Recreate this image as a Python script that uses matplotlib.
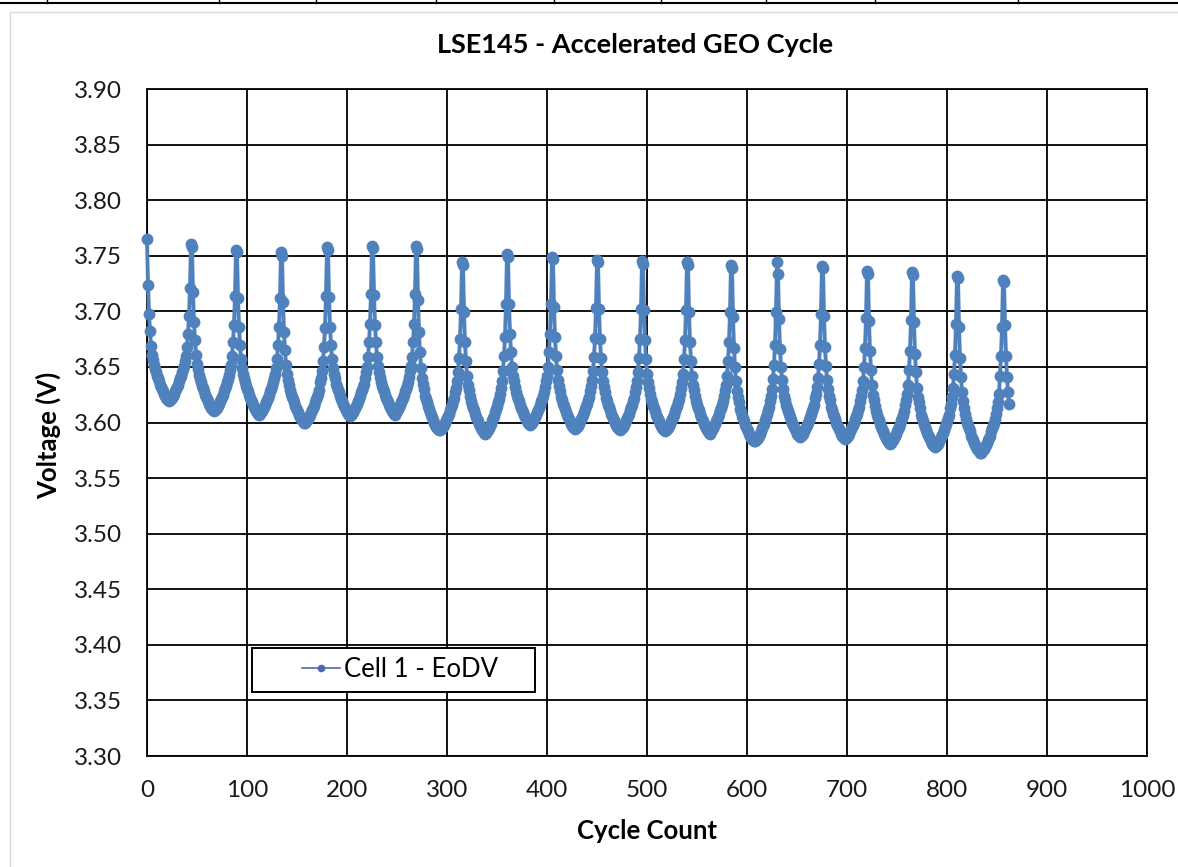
import numpy as np
import matplotlib
matplotlib.use("Agg")
import matplotlib.pyplot as plt
from matplotlib.lines import Line2D
from matplotlib.patches import Rectangle

plt.rcParams['font.family'] = ['Lato', 'DejaVu Sans']

# end-of-discharge voltage (mV), one list per eclipse season
season_01 = [3765, 3724, 3698, 3682, 3669, 3661, 3656, 3652, 3648, 3645, 3642, 3640, 3637, 3634, 3632, 3630,
             3628, 3626, 3624, 3622, 3621, 3620, 3619,
             3620, 3621, 3622, 3624, 3626, 3628, 3630, 3632, 3634, 3637, 3640, 3642, 3645, 3648,
             3651, 3655, 3660, 3668, 3680, 3696, 3721, 3761]
season_02 = [3758, 3717, 3690, 3674, 3661, 3653, 3648, 3643, 3639, 3636, 3633, 3631, 3628, 3625, 3623, 3621,
             3619, 3617, 3615, 3613, 3612, 3611, 3610,
             3611, 3612, 3613, 3615, 3617, 3619, 3621, 3623, 3625, 3628, 3631, 3633, 3636, 3639,
             3643, 3647, 3652, 3660, 3672, 3688, 3714, 3755]
season_03 = [3753, 3712, 3686, 3670, 3657, 3649, 3644, 3640, 3636, 3633, 3630, 3628, 3625, 3622, 3620, 3618,
             3616, 3614, 3612, 3610, 3609, 3608, 3607,
             3608, 3609, 3610, 3612, 3614, 3616, 3618, 3620, 3622, 3625, 3628, 3630, 3633, 3636,
             3640, 3644, 3649, 3657, 3670, 3686, 3712, 3753]
season_04 = [3750, 3708, 3681, 3665, 3652, 3644, 3638, 3634, 3629, 3626, 3623, 3621, 3618, 3615, 3613, 3611,
             3609, 3607, 3605, 3603, 3602, 3601, 3600, 3600,
             3601, 3602, 3603, 3605, 3607, 3609, 3611, 3613, 3615, 3618, 3621, 3623, 3626, 3629,
             3636, 3640, 3646, 3655, 3668, 3685, 3714, 3758]
season_05 = [3755, 3713, 3686, 3670, 3657, 3649, 3644, 3640, 3635, 3632, 3629, 3627, 3624, 3621, 3619, 3617,
             3615, 3613, 3611, 3609, 3608, 3607, 3606,
             3607, 3608, 3609, 3611, 3613, 3615, 3617, 3619, 3621, 3624, 3627, 3629, 3632, 3635,
             3640, 3645, 3650, 3659, 3672, 3689, 3716, 3759]
season_06 = [3757, 3715, 3688, 3672, 3659, 3651, 3645, 3641, 3636, 3633, 3630, 3628, 3625, 3622, 3620, 3618,
             3616, 3614, 3612, 3610, 3609, 3608, 3607,
             3609, 3610, 3612, 3614, 3616, 3618, 3620, 3622, 3625, 3628, 3630, 3633, 3636,
             3641, 3646, 3651, 3659, 3672, 3689, 3716, 3759]
season_07 = [3756, 3710, 3681, 3663, 3649, 3640, 3635, 3630, 3624, 3621, 3618, 3615, 3612, 3609, 3607, 3605,
             3602, 3600, 3598, 3596, 3595, 3594, 3593, 3593,
             3594, 3595, 3596, 3598, 3600, 3602, 3604, 3606, 3608, 3611, 3614, 3616, 3619, 3622,
             3627, 3631, 3637, 3645, 3658, 3675, 3702, 3744]
season_08 = [3742, 3699, 3672, 3655, 3642, 3634, 3629, 3624, 3619, 3616, 3613, 3611, 3608, 3605, 3603, 3601,
             3599, 3597, 3595, 3593, 3592, 3591, 3590,
             3591, 3592, 3593, 3595, 3597, 3599, 3602, 3604, 3606, 3609, 3612, 3615, 3618, 3621,
             3626, 3631, 3637, 3646, 3660, 3677, 3707, 3752]
season_09 = [3749, 3707, 3680, 3663, 3650, 3642, 3637, 3632, 3627, 3624, 3621, 3619, 3616, 3613, 3611, 3609,
             3607, 3605, 3603, 3601, 3600, 3599, 3598,
             3599, 3600, 3601, 3603, 3605, 3607, 3609, 3611, 3613, 3616, 3619, 3621, 3624, 3627,
             3632, 3637, 3642, 3650, 3663, 3680, 3707, 3749]
season_10 = [3747, 3704, 3677, 3660, 3647, 3638, 3633, 3628, 3623, 3620, 3617, 3615, 3612, 3609, 3607, 3605,
             3603, 3601, 3599, 3597, 3596, 3595, 3594,
             3595, 3596, 3597, 3599, 3601, 3603, 3605, 3607, 3609, 3612, 3615, 3617, 3620, 3623,
             3628, 3633, 3638, 3646, 3659, 3676, 3703, 3746]
season_11 = [3744, 3702, 3675, 3658, 3645, 3637, 3632, 3627, 3622, 3619, 3616, 3614, 3611, 3608, 3606, 3604,
             3602, 3600, 3598, 3596, 3595, 3594, 3593,
             3594, 3595, 3596, 3598, 3600, 3602, 3604, 3606, 3608, 3611, 3614, 3616, 3619, 3622,
             3627, 3632, 3637, 3645, 3658, 3675, 3702, 3745]
season_12 = [3743, 3701, 3674, 3657, 3644, 3636, 3631, 3626, 3621, 3618, 3615, 3613, 3610, 3607, 3605, 3603,
             3601, 3599, 3597, 3595, 3594, 3593, 3592,
             3593, 3594, 3595, 3597, 3599, 3601, 3603, 3605, 3607, 3610, 3613, 3615, 3618, 3621,
             3626, 3631, 3636, 3644, 3657, 3674, 3701, 3744]
season_13 = [3742, 3699, 3672, 3655, 3642, 3634, 3629, 3624, 3619, 3616, 3613, 3611, 3608, 3605, 3603, 3601,
             3599, 3597, 3595, 3593, 3592, 3591, 3590,
             3592, 3593, 3595, 3597, 3599, 3601, 3603, 3605, 3608, 3611, 3613, 3616, 3619,
             3624, 3629, 3634, 3642, 3655, 3672, 3699, 3742]
season_14 = [3739, 3695, 3667, 3650, 3637, 3628, 3623, 3618, 3612, 3609, 3606, 3604, 3601, 3598, 3596, 3594,
             3592, 3590, 3588, 3586, 3585, 3584, 3583, 3583,
             3584, 3585, 3586, 3588, 3590, 3592, 3595, 3597, 3599, 3602, 3605, 3608, 3611, 3614,
             3619, 3624, 3630, 3639, 3652, 3670, 3699, 3744]
season_15 = [3734, 3693, 3666, 3650, 3638, 3630, 3624, 3620, 3616, 3613, 3610, 3608, 3605, 3602, 3600, 3598,
             3596, 3594, 3592, 3590, 3589, 3588, 3587,
             3588, 3589, 3590, 3592, 3594, 3596, 3598, 3600, 3602, 3605, 3608, 3610, 3613, 3616,
             3622, 3626, 3632, 3640, 3653, 3670, 3698, 3741]
season_16 = [3739, 3696, 3668, 3651, 3638, 3630, 3624, 3620, 3614, 3611, 3608, 3606, 3603, 3600, 3598, 3596,
             3594, 3592, 3590, 3588, 3587, 3586, 3585,
             3586, 3587, 3588, 3590, 3592, 3594, 3596, 3598, 3600, 3603, 3606, 3608, 3611, 3614,
             3619, 3624, 3629, 3637, 3650, 3667, 3694, 3736]
season_17 = [3734, 3691, 3664, 3647, 3634, 3625, 3620, 3615, 3610, 3607, 3604, 3602, 3599, 3596, 3594, 3592,
             3590, 3588, 3586, 3584, 3583, 3582, 3581,
             3582, 3583, 3584, 3586, 3588, 3590, 3592, 3594, 3596, 3599, 3602, 3604, 3607, 3610,
             3616, 3620, 3626, 3634, 3647, 3664, 3692, 3735]
season_18 = [3733, 3690, 3662, 3645, 3631, 3623, 3618, 3613, 3607, 3604, 3601, 3599, 3596, 3593, 3591, 3589,
             3587, 3585, 3583, 3581, 3580, 3579, 3578,
             3579, 3580, 3581, 3583, 3585, 3587, 3589, 3591, 3593, 3596, 3599, 3601, 3604, 3607,
             3613, 3617, 3623, 3631, 3644, 3661, 3689, 3732]
season_19 = [3730, 3686, 3658, 3641, 3627, 3619, 3613, 3608, 3603, 3600, 3597, 3595, 3592, 3588, 3586, 3584,
             3582, 3580, 3578, 3576, 3575, 3574, 3573, 3573,
             3574, 3575, 3576, 3578, 3580, 3582, 3584, 3586, 3588, 3592, 3595, 3597, 3600, 3603,
             3608, 3613, 3618, 3626, 3642, 3660, 3686, 3728]
season_20 = [3726, 3688, 3660, 3641, 3627, 3617]

seasons = [season_01, season_02, season_03, season_04, season_05, season_06, season_07,
           season_08, season_09, season_10, season_11, season_12, season_13, season_14,
           season_15, season_16, season_17, season_18, season_19, season_20]

x_ticks = [0, 100, 200, 300, 400, 500, 600, 700, 800, 900, 1000]
y_ticks = [3.30, 3.35, 3.40, 3.45, 3.50, 3.55, 3.60, 3.65, 3.70, 3.75, 3.80, 3.85, 3.90]

eodv = np.concatenate([np.array(s, dtype=float) for s in seasons]) / 1000.0
cycle = np.arange(len(eodv))

W, H = 1178, 867
fig = plt.figure(figsize=(W / 100, H / 100), dpi=100)
ax = fig.add_axes([147 / W, (H - 756) / H, 1000 / W, 667 / H])

blue = '#4F81BD'
ax.plot(cycle, eodv, color=blue, lw=2.8, marker='o', ms=7.5, mec=blue, mfc=blue,
        zorder=3, clip_on=False)

ax.set_xlim(0, 1000)
ax.set_ylim(3.30, 3.90)
ax.set_xticks(x_ticks)
ax.set_yticks(y_ticks)
ax.set_yticklabels(['%.2f' % v for v in y_ticks])
ax.tick_params(axis='both', length=0, labelsize=17.5, colors='#1a1a1a')
ax.tick_params(axis='y', pad=18)
ax.tick_params(axis='x', pad=17)
ax.grid(True, color='black', lw=1.3)
ax.set_axisbelow(True)
for sp in ax.spines.values():
    sp.set_color('black')
    sp.set_linewidth(1.3)

# legend box (Excel style, fixed size)
ax.add_patch(Rectangle((0.105, 0.096), 0.283, 0.066, transform=ax.transAxes,
                       facecolor='white', edgecolor='black', lw=1.4, zorder=4))
h = Line2D([], [], color='#4a6ab8', lw=1.2, marker='o', ms=4.5)
leg = ax.legend([h], ['Cell 1 - EoDV'], loc='center', bbox_to_anchor=(0.253, 0.129),
                frameon=False, fontsize=18.5, handlelength=1.5, handletextpad=0.15)
leg.set_zorder(5)

fig.text(635 / W, 1 - 45 / H, 'LSE145 - Accelerated GEO Cycle', ha='center', va='center',
         fontsize=19.5, fontweight='bold')
fig.text(647 / W, 1 - 831 / H, 'Cycle Count', ha='center', va='center',
         fontsize=18.5, fontweight='bold')
fig.text(48 / W, 1 - 435 / H, 'Voltage (V)', ha='center', va='center', rotation=90,
         fontsize=18.5, fontweight='bold')

# spreadsheet cell border above the chart and faint chart frame
fig.add_artist(Line2D([0, 1], [1 - 3 / H, 1 - 3 / H], color='black', lw=1.5))
for px in [47, 219, 316, 436, 554, 661, 766, 875, 1018]:
    fig.add_artist(Line2D([px / W, px / W], [1 - 3 / H, 1], color='black', lw=1))
fig.add_artist(Rectangle((10 / W, -0.01), 1.0, 1 - 12 / H + 0.01, transform=fig.transFigure,
                         facecolor='none', edgecolor='#d9d9d9', lw=1))

fig.savefig('out.png', dpi=100)
